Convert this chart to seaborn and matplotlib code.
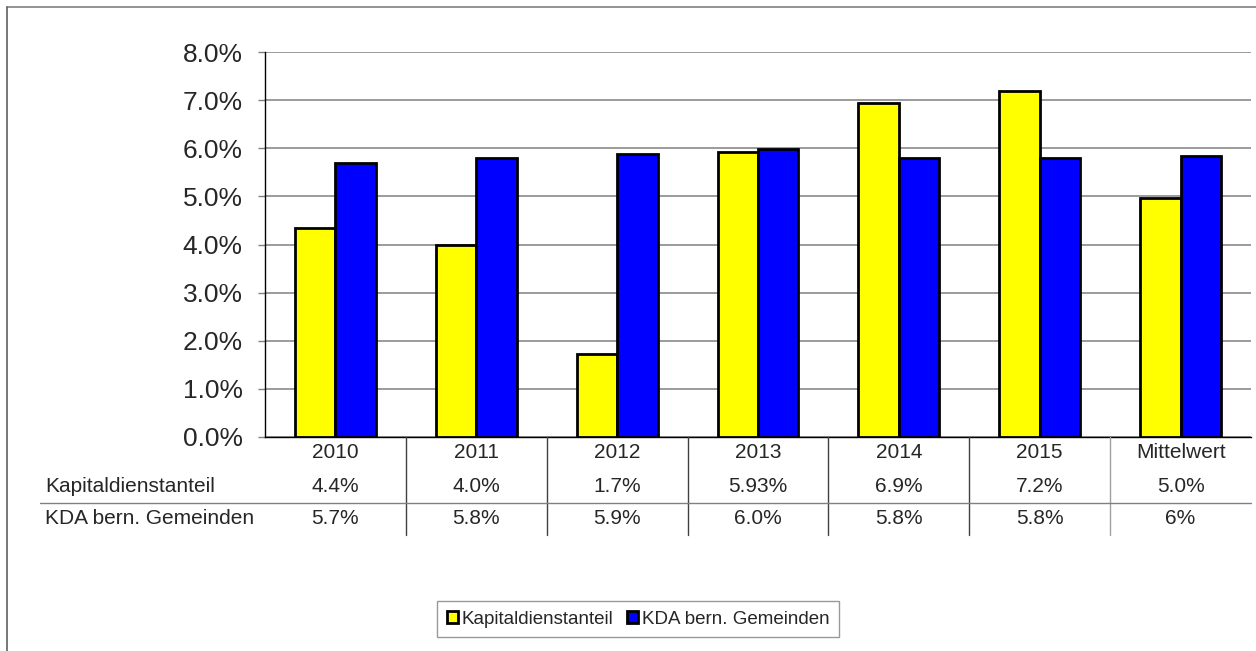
import numpy as np
import pandas as pd
from matplotlib import pyplot as plt
from matplotlib import transforms
from matplotlib.lines import Line2D
from matplotlib.ticker import PercentFormatter
import seaborn as sns

# categories and series (values in percent)
years = ["2010", "2011", "2012", "2013", "2014", "2015", "Mittelwert"]
kapital = [4.35, 3.98, 1.72, 5.93, 6.94, 7.18, 4.97]
kda = [5.70, 5.80, 5.89, 5.99, 5.80, 5.80, 5.83]
series_names = ["Kapitaldienstanteil", "KDA bern. Gemeinden"]

# data table labels as printed under the chart
kapital_labels = ["4.4%", "4.0%", "1.7%", "5.93%", "6.9%", "7.2%", "5.0%"]
kda_labels = ["5.7%", "5.8%", "5.9%", "6.0%", "5.8%", "5.8%", "6%"]

W, H = 1256, 651
sns.set_style("white")
plt.rcParams['font.family'] = ['Liberation Sans', 'DejaVu Sans']

df = pd.DataFrame({
    "Jahr": years * 2,
    "Wert": kapital + kda,
    "Serie": [series_names[0]] * len(years) + [series_names[1]] * len(years),
})

fig = plt.figure(figsize=(W / 100, H / 100), dpi=100)
ax = fig.add_axes([265 / W, 1 - 437 / H, (1251 - 265) / W, (437 - 52) / H])

sns.barplot(data=df, x="Jahr", y="Wert", hue="Serie", ax=ax,
            palette={series_names[0]: "#FFFF00", series_names[1]: "#0000FF"},
            width=0.575, edgecolor="black", linewidth=2.0, saturation=1,
            zorder=3)

ax.set_ylim(0, 8)
ax.set_xlim(-0.5, len(years) - 0.5)
ax.set_yticks(np.arange(0, 9, 1))
ax.yaxis.set_major_formatter(PercentFormatter(decimals=1))
ax.yaxis.grid(True, color="#808080", linewidth=1.1, zorder=0)
ax.set_axisbelow(True)
for s in ["top", "right"]:
    ax.spines[s].set_visible(False)
for s in ["left", "bottom"]:
    ax.spines[s].set_color("black")
    ax.spines[s].set_linewidth(1.0)
ax.tick_params(axis="y", direction="out", length=5, width=1, color="#808080",
               pad=11, labelsize=19, left=True)
ax.tick_params(axis="x", length=0, labelbottom=False)
ax.set_xlabel("")
ax.set_ylabel("")

# legend, moved into the figure below the table
handles, labels = ax.get_legend_handles_labels()
ax.get_legend().remove()
for h in handles:
    h.set_linewidth(2.0)
leg = fig.legend(handles, labels, loc="center", ncol=2,
                 bbox_to_anchor=(638 / W, 1 - 619 / H),
                 fontsize=13.5, frameon=True, fancybox=False,
                 handlelength=0.6, handleheight=0.6, handletextpad=0.2,
                 columnspacing=0.7, borderpad=0.5)
leg.get_frame().set_edgecolor("#808080")
leg.get_frame().set_linewidth(1.0)

# data table under the axis
trans = transforms.blended_transform_factory(ax.transData, fig.transFigure)
def fy(px):
    return 1 - px / H

for i, yr in enumerate(years):
    ax.text(i, fy(453), yr, transform=trans, ha="center", va="center", fontsize=15)
    ax.text(i, fy(487), kapital_labels[i], transform=trans, ha="center", va="center", fontsize=15)
    ax.text(i, fy(519), kda_labels[i], transform=trans, ha="center", va="center", fontsize=15)
fig.text(45 / W, fy(487), series_names[0], ha="left", va="center", fontsize=15)
fig.text(45 / W, fy(519), series_names[1], ha="left", va="center", fontsize=15)

for i in range(len(years) - 1):
    col = "#a0a0a0" if i == len(years) - 2 else "#404040"
    fig.add_artist(Line2D([i + 0.5, i + 0.5], [fy(437), fy(535)], transform=trans,
                          color=col, linewidth=1.0))
fig.add_artist(Line2D([40 / W, 1251 / W], [fy(503), fy(503)],
                      color="#808080", linewidth=1.0))

# outer chart frame (top and left edges visible)
fig.add_artist(Line2D([7 / W, 1], [fy(7), fy(7)], color="#808080", linewidth=1.2))
fig.add_artist(Line2D([7 / W, 7 / W], [0, fy(7)], color="#606060", linewidth=1.2))

plt.savefig("out.png", dpi=100)
